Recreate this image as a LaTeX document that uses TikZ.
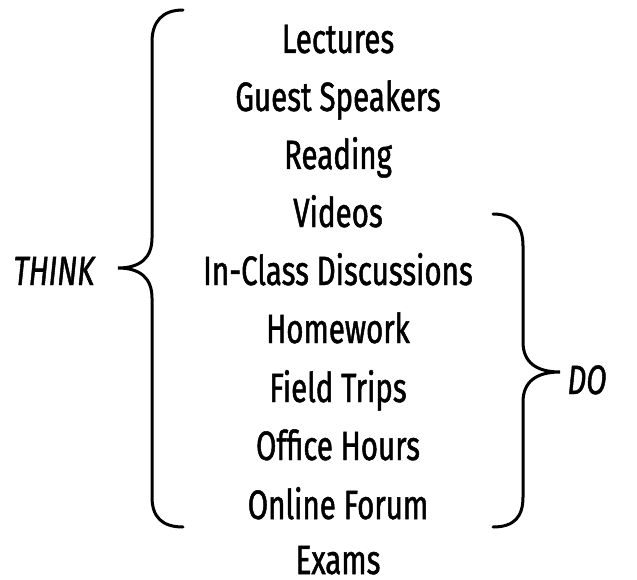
\documentclass[tikz,border=0pt]{standalone}
\usepackage{fontspec}
\setmainfont[FakeStretch=0.72,FakeBold=1.2]{Fira Sans}
\begin{document}
\begin{tikzpicture}[x=1pt,y=-1pt,
  item/.style={font=\fontsize{41}{43}\selectfont, inner sep=0pt, anchor=base},
  lab/.style={font=\fontsize{41}{43}\selectfont\itshape, inner sep=0pt, anchor=base},
  brace/.style={line width=3pt, line cap=round}]
\useasboundingbox (0,0) rectangle (637,580);
\node[item] (l1) at (338,53) {Lectures};
\node[item] (l2) at (338,111) {Guest Speakers};
\node[item] (l3) at (338,169) {Reading};
\node[item] (l4) at (338,227) {Videos};
\node[item] (l5) at (338,285) {In-Class Discussions};
\node[item] (l6) at (338,343) {Homework};
\node[item] (l7) at (338,402) {Field Trips};
\node[item] (l8) at (338,460) {Office Hours};
\node[item] (l9) at (338,519) {Online Forum};
\node[item] (l10) at (338,574) {Exams};
\node[lab] (think) at (54,285) {THINK};
\node[lab] (do) at (587,394) {DO};
\coordinate (ltip) at (118,268);
\coordinate (rtip) at (560,372);
\draw[brace] (183,10) .. controls (162,10) and (152,22) .. (152,42) -- (152,238)
  .. controls (152,258) and (140,268) .. (ltip)
  .. controls (140,268) and (152,278) .. (152,298) -- (152,497)
  .. controls (152,517) and (162,527) .. (183,527);
\draw[brace] (493,214) .. controls (514,214) and (523,226) .. (523,246) -- (523,342)
  .. controls (523,362) and (536,372) .. (rtip)
  .. controls (536,372) and (523,382) .. (523,402) -- (523,497)
  .. controls (523,517) and (514,527) .. (493,527);
\end{tikzpicture}
\end{document}
